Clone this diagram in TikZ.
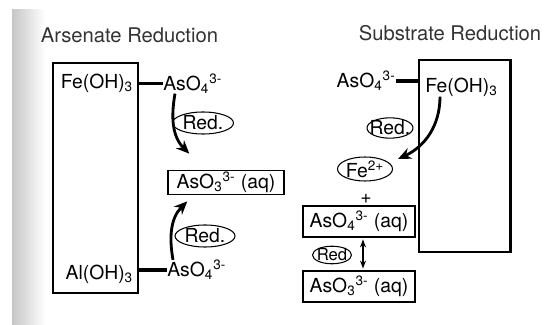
\documentclass[tikz,border=0pt]{standalone}
\usepackage{fontspec}
\setmainfont{TeX Gyre Heros}
\usepackage{xcolor}
\usepackage{tikz}
\usetikzlibrary{shapes,arrows,positioning,fit,calc,arrows.meta}

\begin{document}
\begin{tikzpicture}[
    font=\fontsize{11}{13}\selectfont,
    heading/.style={font=\fontsize{11.5}{14}\selectfont, text=black!80},
    plate/.style={draw, line width=1.7pt, minimum width=#1, inner sep=0pt},
    label/.style={inner sep=0pt},
    species/.style={draw, line width=0.8pt, minimum width=#1, minimum height=0.42cm, inner xsep=2pt, inner ysep=1pt},
    redtag/.style={draw, ellipse, line width=0.6pt, inner sep=0pt, minimum width=#1, minimum height=0.44cm},
    bar/.style={line width=1.8pt},
    arrow/.style={-{Stealth[length=7.5pt,width=6.5pt]}, line width=1.6pt}
]
\useasboundingbox (0,0) rectangle (10.94,-6.5);
\shade[left color=gray!45, right color=white] (0.24,-0.2) rectangle (0.9,-6.5);

\node[heading] (titleL) at (2.59,-0.70) {Arsenate Reduction};
\node[heading] (titleR) at (9.00,-0.66) {Substrate Reduction};

% arsenate reduction
\node[plate=1.70cm, minimum height=4.60cm] (leftbox) at (1.91,-3.56) {};
\node[label, anchor=east] (feL)  at (2.67,-1.67) {Fe(OH)\textsubscript{3}};
\node[label, anchor=west] (asL1) at (3.26,-1.67) {AsO\textsubscript{4}\textsuperscript{3-}};
\node[label, anchor=east] (alL)  at (2.67,-5.48) {Al(OH)\textsubscript{3}};
\node[label, anchor=west] (asL2) at (3.34,-5.40) {AsO\textsubscript{4}\textsuperscript{3-}};
\node[species=2.32cm] (aso3L) at (4.52,-3.65) {AsO\textsubscript{3}\textsuperscript{3-} (aq)};
\node[redtag=1.22cm, inner xsep=-1pt] (redL1) at (4.06,-2.46) {Red.};
\node[redtag=1.20cm, inner xsep=-1pt] (redL2) at (4.10,-4.72) {Red.};

\draw[bar] (asL1.west -| leftbox.east) -- (asL1.west);
\draw[bar] (asL2.west -| leftbox.east) -- (asL2.west);
\draw[arrow] ([xshift=0.24cm]asL1.south west) to[out=-100, in=135] ([xshift=0.44cm, yshift=0.32cm]aso3L.north west);
\draw[arrow] ([xshift=0.12cm]asL2.north west) to[out=100, in=-135] ([xshift=0.40cm, yshift=-0.12cm]aso3L.south west);

% substrate reduction
\node[plate=1.82cm, minimum height=3.84cm] (rightbox) at (9.29,-3.12) {};
\node[label, anchor=west] (feR) at (8.50,-1.74) {Fe(OH)\textsubscript{3}};
\node[label, anchor=east] (asR) at (7.92,-1.62) {AsO\textsubscript{4}\textsuperscript{3-}};
\node[redtag=0.92cm, minimum height=0.40cm, inner xsep=-2.5pt] (redR) at (7.80,-2.56) {Red.};
\node[redtag=1.10cm, minimum height=0.48cm, inner xsep=-1pt] (fe2) at (7.30,-3.38) {Fe\textsuperscript{2+}};
\node[label] (plus) at (7.32,-3.98) {+};
\node[species=2.24cm, minimum height=0.62cm] (aq4) at (7.18,-4.43) {AsO\textsubscript{4}\textsuperscript{3-} (aq)};
\node[species=2.24cm, minimum height=0.62cm] (aq3) at (7.18,-5.73) {AsO\textsubscript{3}\textsuperscript{3-} (aq)};
\node[redtag=0.78cm, minimum height=0.32cm, inner xsep=-1.2pt, font=\fontsize{9.5}{11}\selectfont] (redS) at (6.64,-5.10) {Red};

\draw[bar] (asR.east) -- (asR.east -| rightbox.west);
\draw[arrow] ([xshift=0.30cm]feR.south west) to[out=-90, in=25] ([xshift=0.10cm, yshift=0.20cm]fe2.east);
\draw[{Stealth[length=4.5pt]}-{Stealth[length=4.5pt]}, line width=0.9pt, shorten <=1pt, shorten >=1pt] ([xshift=0.08cm]aq4.south) -- ([xshift=0.08cm]aq3.north);
\end{tikzpicture}
\end{document}
